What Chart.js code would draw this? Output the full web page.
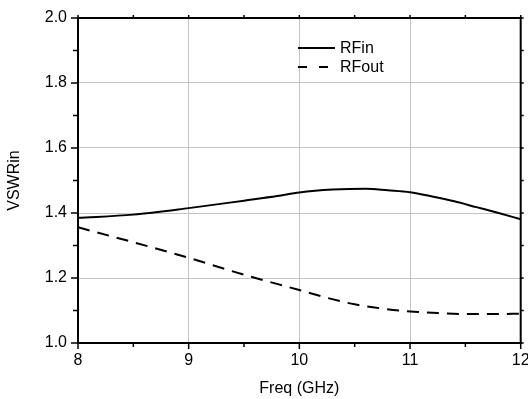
<!DOCTYPE html>
<html>

<head>
    <title>VSWR</title>
    <script src="https://cdn.jsdelivr.net/npm/chart.js"></script>
    <style>
        html, body { margin: 0; padding: 0; background: #fff; }
        #wrap { width: 528px; height: 399px; }
    </style>
</head>

<body>
    <div id="wrap">
        <canvas id="vswrChart" width="528" height="399"></canvas>
    </div>

    <script>
        // 데이터
        var rfinFreq = [8, 8.5, 9, 9.5, 9.8, 10, 10.3, 10.6, 10.8, 11, 11.2, 11.4, 11.6, 11.8, 12];
        var rfinVswr = [1.385, 1.395, 1.415, 1.438, 1.452, 1.463, 1.472, 1.475, 1.470, 1.464, 1.451, 1.436, 1.418, 1.400, 1.381];

        var rfoutFreq = [8, 8.5, 9, 9.5, 10, 10.25, 10.5, 10.75, 11, 11.25, 11.5, 11.75, 12];
        var rfoutVswr = [1.356, 1.310, 1.262, 1.210, 1.163, 1.139, 1.119, 1.106, 1.097, 1.092, 1.089, 1.089, 1.090];

        var seriesNames = ['RFin', 'RFout'];
        var xTitle = 'Freq (GHz)';
        var yTitle = 'VSWRin';

        function toPoints(xs, ys) {
            return xs.map(function (x, i) {
                return { x: x, y: ys[i] };
            });
        }

        var fontFamily = '"Liberation Sans", Arial, sans-serif';

        // 테두리 + 보조 눈금
        var frameAndTicks = {
            id: 'frameAndTicks',
            afterDraw: function (chart) {
                var ctx = chart.ctx, a = chart.chartArea;
                var xs = chart.scales.x, ys = chart.scales.y;
                ctx.save();
                ctx.strokeStyle = '#000';
                ctx.lineWidth = 1.5;
                ctx.beginPath();
                // x 보조 눈금 (0.5 GHz)
                for (var v = xs.min; v <= xs.max + 1e-9; v += 0.5) {
                    var px = xs.getPixelForValue(v);
                    var len = (Math.abs(v - Math.round(v)) < 1e-6) ? 6 : 4;
                    ctx.moveTo(px, a.bottom);
                    ctx.lineTo(px, a.bottom + len);
                    ctx.moveTo(px, a.top);
                    ctx.lineTo(px, a.top - 3);
                }
                // y 보조 눈금 (0.1)
                for (var k = 0; k <= 10; k++) {
                    var val = ys.min + k * 0.1;
                    var py = ys.getPixelForValue(val);
                    ctx.moveTo(a.left, py);
                    ctx.lineTo(a.left - (k % 2 === 0 ? 7 : 5), py);
                    ctx.moveTo(a.right, py);
                    ctx.lineTo(a.right + 3, py);
                }
                ctx.stroke();
                ctx.lineWidth = 2;
                ctx.strokeRect(a.left, a.top, a.right - a.left, a.bottom - a.top);
                ctx.restore();
            }
        };

        // 범례 (그래프 안쪽)
        var innerLegend = {
            id: 'innerLegend',
            afterDraw: function (chart) {
                var ctx = chart.ctx, a = chart.chartArea;
                var x0 = a.left + 220, x1 = a.left + 257;
                var rows = [a.top + 30, a.top + 49];
                ctx.save();
                ctx.strokeStyle = '#000';
                ctx.fillStyle = '#000';
                ctx.lineWidth = 2;
                ctx.font = '16px ' + fontFamily;
                ctx.textBaseline = 'middle';
                chart.data.datasets.forEach(function (ds, i) {
                    ctx.setLineDash(i === 0 ? [] : [9, 12]);
                    ctx.beginPath();
                    ctx.moveTo(x0, rows[i]);
                    ctx.lineTo(x1, rows[i]);
                    ctx.stroke();
                    ctx.setLineDash([]);
                    ctx.fillText(ds.label, x1 + 5, rows[i] + 1);
                });
                ctx.restore();
            }
        };

        var ctx = document.getElementById('vswrChart').getContext('2d');
        var chart = new Chart(ctx, {
            type: 'line',
            data: {
                datasets: [{
                    label: seriesNames[0],
                    data: toPoints(rfinFreq, rfinVswr),
                    borderColor: '#000',
                    borderWidth: 2,
                    pointRadius: 0,
                    fill: false,
                    cubicInterpolationMode: 'monotone'
                }, {
                    label: seriesNames[1],
                    data: toPoints(rfoutFreq, rfoutVswr),
                    borderColor: '#000',
                    borderWidth: 2,
                    borderDash: [12, 8],
                    pointRadius: 0,
                    fill: false,
                    cubicInterpolationMode: 'monotone'
                }]
            },
            options: {
                responsive: false,
                animation: false,
                layout: {
                    padding: { top: 18, right: 7, left: 0, bottom: 0 }
                },
                plugins: {
                    legend: { display: false },
                    tooltip: { enabled: false }
                },
                scales: {
                    x: {
                        type: 'linear',
                        min: 8,
                        max: 12,
                        afterFit: function (scale) {
                            scale.height = 56;
                            scale.paddingRight = 7.3;
                        },
                        ticks: {
                            stepSize: 1,
                            color: '#000',
                            padding: 8,
                            maxRotation: 0,
                            font: { family: fontFamily, size: 16 }
                        },
                        grid: {
                            color: '#c4c4c4',
                            lineWidth: 1,
                            drawTicks: false
                        },
                        border: { display: true, color: '#000', width: 2 },
                        title: {
                            display: true,
                            text: xTitle,
                            color: '#000',
                            padding: { top: 4, bottom: 1 },
                            font: { family: fontFamily, size: 16 }
                        }
                    },
                    y: {
                        min: 1.0,
                        max: 2.0,
                        afterFit: function (scale) {
                            scale.width = 78;
                            scale.paddingTop = 0;
                            scale.paddingBottom = 0;
                        },
                        ticks: {
                            stepSize: 0.2,
                            color: '#000',
                            padding: 11,
                            font: { family: fontFamily, size: 16 },
                            callback: function (v) { return v.toFixed(1); }
                        },
                        grid: {
                            color: '#c4c4c4',
                            lineWidth: 1,
                            drawTicks: false
                        },
                        border: { display: true, color: '#000', width: 2 },
                        title: {
                            display: true,
                            text: yTitle,
                            color: '#000',
                            padding: { top: 5, bottom: 0 },
                            font: { family: fontFamily, size: 16 }
                        }
                    }
                }
            },
            plugins: [frameAndTicks, innerLegend]
        });
    </script>

</body>

</html>
